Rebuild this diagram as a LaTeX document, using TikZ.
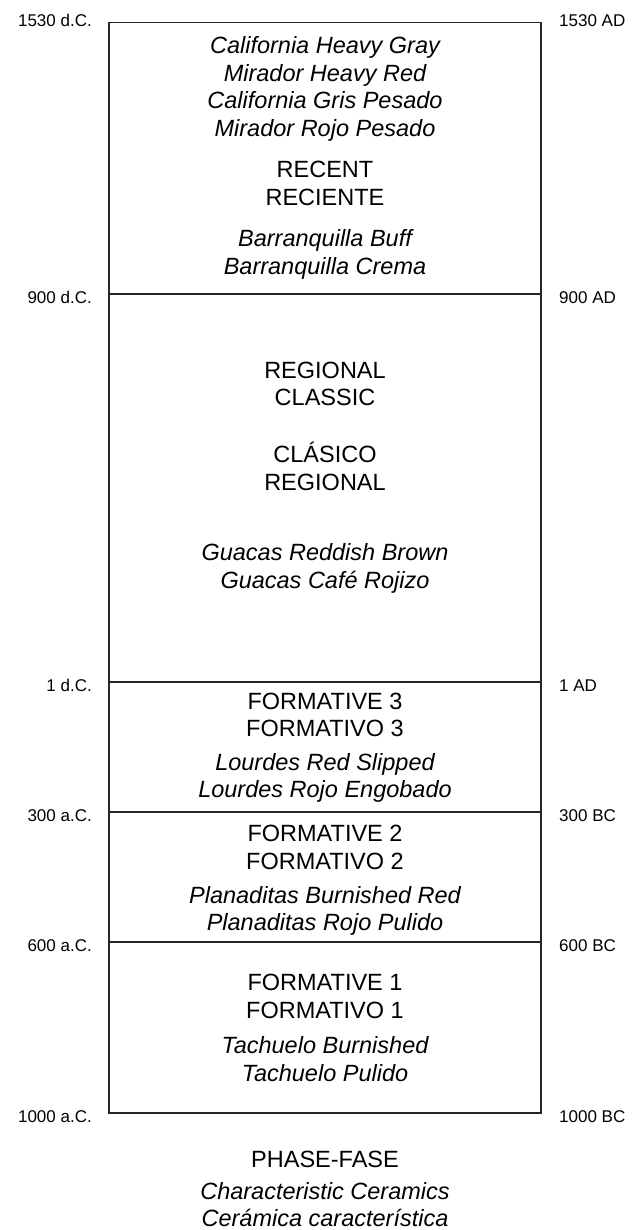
\documentclass[tikz,border=0pt]{standalone}
\usepackage{fontspec}
\setmainfont{Liberation Sans}
\begin{document}
\begin{tikzpicture}[x=1pt,y=-1pt,
  frame/.style={line width=1.3pt, draw=black!85},
  ital/.style={inner sep=0pt, anchor=base, font=\fontsize{23.5}{28}\selectfont\itshape},
  phase/.style={inner sep=0pt, anchor=base, font=\fontsize{23.5}{28}\selectfont},
  lbl/.style={inner sep=0pt, anchor=base east, font=\fontsize{17}{20}\selectfont},
  rbl/.style={inner sep=0pt, anchor=base west, font=\fontsize{17}{20}\selectfont}]
\useasboundingbox (0,0) rectangle (636,1230);
% boundaries
\coordinate (tl) at (109,22.7);
\coordinate (br) at (541,1113);
\coordinate (a900) at (109,294);  \coordinate (b900) at (541,294);
\coordinate (a1) at (109,682);    \coordinate (b1) at (541,682);
\coordinate (a300) at (109,812);  \coordinate (b300) at (541,812);
\coordinate (a600) at (109,942);  \coordinate (b600) at (541,942);
\draw[frame] (tl) rectangle (br);
\draw[frame] (a900) -- (b900);
\draw[frame] (a1) -- (b1);
\draw[frame] (a300) -- (b300);
\draw[frame] (a600) -- (b600);
% left labels
\node[lbl] (l1530) at (92,27) {1530 d.C.};
\node[lbl] (l900) at (92,304) {900 d.C.};
\node[lbl] (l1) at (92,691) {1 d.C.};
\node[lbl] (l300) at (92,821) {300 a.C.};
\node[lbl] (l600) at (92,951) {600 a.C.};
\node[lbl] (l1000) at (92,1122) {1000 a.C.};
% right labels
\node[rbl] (r1530) at (559,27) {1530 AD};
\node[rbl] (r900) at (559,304) {900 AD};
\node[rbl] (r1) at (559,691) {1 AD};
\node[rbl] (r300) at (559,821) {300 BC};
\node[rbl] (r600) at (559,951) {600 BC};
\node[rbl] (r1000) at (559,1122) {1000 BC};
% Recent
\node[ital] (c1) at (325,53.6) {California Heavy Gray};
\node[ital] (c2) at (325,81.6) {Mirador Heavy Red};
\node[ital] (c3) at (325,108.6) {California Gris Pesado};
\node[ital] (c4) at (325,136.6) {Mirador Rojo Pesado};
\node[phase] (p1) at (325,177.6) {RECENT};
\node[phase] (p2) at (325,205.6) {RECIENTE};
\node[ital] (c5) at (325,246.6) {Barranquilla Buff};
\node[ital] (c6) at (325,274.6) {Barranquilla Crema};
% Regional Classic
\node[phase] (p3) at (325,378.6) {REGIONAL};
\node[phase] (p4) at (325,405.6) {CLASSIC};
\node[phase] (p5) at (325,462.6) {CLÁSICO};
\node[phase] (p6) at (325,490.6) {REGIONAL};
\node[ital] (c7) at (325,560.6) {Guacas Reddish Brown};
\node[ital] (c8) at (325,588.6) {Guacas Café Rojizo};
% Formative 3
\node[phase] (p7) at (325,709.6) {FORMATIVE 3};
\node[phase] (p8) at (325,736.6) {FORMATIVO 3};
\node[ital] (c9) at (325,770.6) {Lourdes Red Slipped};
\node[ital] (c10) at (325,797.6) {Lourdes Rojo Engobado};
% Formative 2
\node[phase] (p9) at (325,841.6) {FORMATIVE 2};
\node[phase] (p10) at (325,869.6) {FORMATIVO 2};
\node[ital] (c11) at (325,903.6) {Planaditas Burnished Red};
\node[ital] (c12) at (325,930.6) {Planaditas Rojo Pulido};
% Formative 1
\node[phase] (p11) at (325,990.6) {FORMATIVE 1};
\node[phase] (p12) at (325,1018.6) {FORMATIVO 1};
\node[ital] (c13) at (325,1053.6) {Tachuelo Burnished};
\node[ital] (c14) at (325,1081.6) {Tachuelo Pulido};
% legend
\node[phase] (k1) at (325,1167.6) {PHASE-FASE};
\node[ital] (k2) at (325,1199.6) {Characteristic Ceramics};
\node[ital, text depth=0pt] (k3) at (325,1226) {Cerámica característica};
\end{tikzpicture}
\end{document}
